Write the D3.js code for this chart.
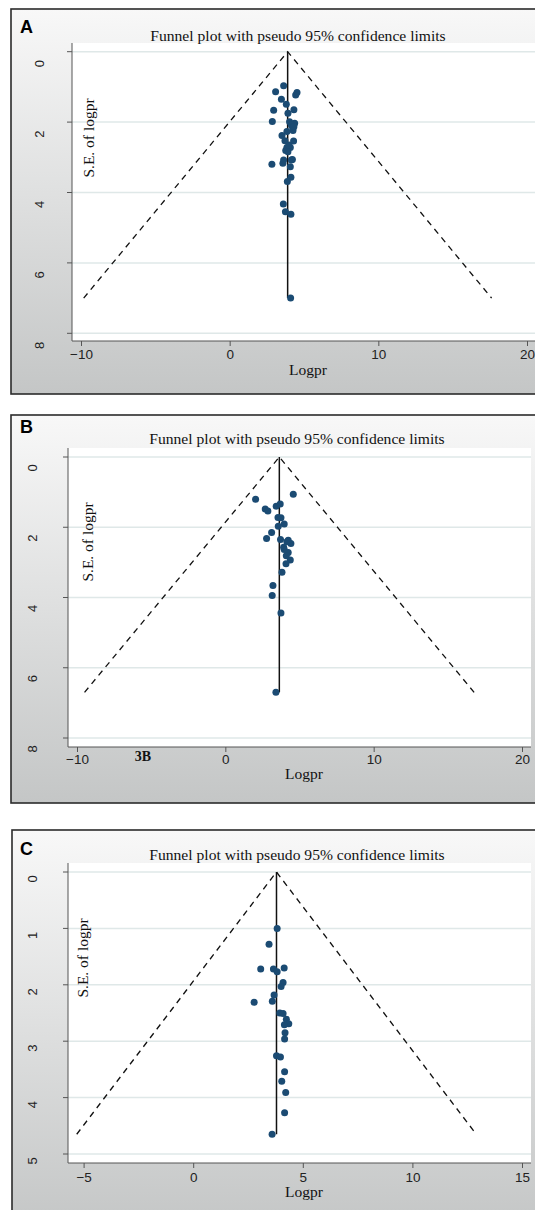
<!DOCTYPE html>
<html>
<head>
<meta charset="utf-8">
<script src="https://cdn.jsdelivr.net/npm/d3@7"></script>
<style>
  body { margin: 0; background: #fff; }
  svg { display: block; }
</style>
</head>
<body>
<div id="chart"></div>
<script>
// data
const chartTitle = "Funnel plot with pseudo 95% confidence limits";
const panelLetters = ["A", "B", "C"];
const pooledLogpr = [3.9, 3.64, 3.8];

const logprA = [3.63, 3.09, 4.53, 4.44, 3.48, 3.81, 2.96, 4.32, 3.92, 2.87, 4.03, 4.37, 4.22, 4.26, 3.52, 4.30,
    3.72, 3.85, 4.08, 3.77, 4.22, 3.63, 2.84, 3.58, 4.08, 4.12, 3.88, 3.61, 3.75, 4.12, 4.10, 4.15, 4.32, 3.99, 3.92, 4.15, 3.85];
const seA = [0.97, 1.14, 1.16, 1.23, 1.35, 1.49, 1.66, 1.65, 1.75, 1.98, 1.99, 2.03, 2.13, 2.24, 2.38, 2.54,
    2.53, 2.72, 2.72, 2.81, 3.06, 3.08, 3.20, 3.17, 3.27, 3.57, 3.69, 4.33, 4.55, 4.62, 7.0, 2.08, 2.13, 2.65, 2.84, 3.08, 2.27];

const logprB = [2.04, 4.58, 2.69, 2.87, 3.43, 3.70, 3.55, 3.75, 3.97, 3.57, 3.12, 2.78, 3.72, 4.24, 4.42, 3.93,
    4.24, 4.11, 4.38, 4.09, 3.82, 3.21, 3.16, 3.75, 3.41, 4.15, 3.97];
const seB = [1.20, 1.06, 1.48, 1.54, 1.40, 1.34, 1.72, 1.73, 1.91, 1.97, 2.15, 2.32, 2.35, 2.37, 2.46, 2.57,
    2.72, 2.81, 2.93, 3.04, 3.28, 3.66, 3.94, 4.44, 6.70, 2.41, 2.63];

const logprC = [3.83, 3.46, 3.08, 3.66, 3.83, 4.15, 4.10, 4.01, 3.69, 2.78, 3.61, 3.95, 4.10, 4.25, 4.36, 4.16,
    4.19, 4.17, 3.80, 3.98, 4.17, 4.04, 4.22, 4.17, 3.60];
const seC = [1.00, 1.28, 1.72, 1.72, 1.77, 1.70, 1.96, 2.03, 2.18, 2.31, 2.29, 2.50, 2.51, 2.61, 2.69, 2.71,
    2.85, 2.96, 3.26, 3.28, 3.54, 3.71, 3.91, 4.27, 4.65];

const xTicksAB = [-10, 0, 10, 20];
const yTicksAB = [0, 2, 4, 6, 8];
const xTicksC = [-5, 0, 5, 10, 15];
const yTicksC = [0, 1, 2, 3, 4, 5];

// layout of each framed panel
const layout = [
    {top: 9, bottom: 394, left: 11, plotTop: 43, plotRight: 545, axisX: 72, axisY: 341,
     xDomain: [-10, 20], xRange: [81, 527], yDomain: [0, 8], yRange: [51.7, 333.3],
     yLabelX: 39, yLabelDy: 12, yTitleX: 89, yTitleY: 138, titleX: 298, titleY: 41, letterY: 33,
     tickBase: 18, xTitleX: 308, xTitleBase: 34},
    {top: 415, bottom: 803, left: 11, plotTop: 448, plotRight: 531, axisX: 68, axisY: 747,
     xDomain: [-10, 20], xRange: [77, 522], yDomain: [0, 8], yRange: [457, 738],
     yLabelX: 32, yLabelDy: 11, yTitleX: 88, yTitleY: 542, titleX: 297, titleY: 444, letterY: 433,
     tickBase: 17, xTitleX: 304, xTitleBase: 32},
    {top: 830, bottom: 1230, left: 12, plotTop: 863, plotRight: 531, axisX: 68, axisY: 1163,
     xDomain: [-5, 15], xRange: [83.6, 522], yDomain: [0, 5], yRange: [872, 1154],
     yLabelX: 32, yLabelDy: 7, yTitleX: 83, yTitleY: 958, titleX: 297, titleY: 860, letterY: 855,
     tickBase: 19, xTitleX: 304, xTitleBase: 34}
];

const panelData = [
    {x: logprA, se: seA, xTicks: xTicksAB, yTicks: yTicksAB},
    {x: logprB, se: seB, xTicks: xTicksAB, yTicks: yTicksAB},
    {x: logprC, se: seC, xTicks: xTicksC, yTicks: yTicksC}
];

const serif = "'Liberation Serif', 'Times New Roman', serif";
const sans = "'Liberation Sans', Arial, sans-serif";

let svg = d3.select("#chart").append("svg")
    .attr("width", 535).attr("height", 1210);

let grad = svg.append("defs").append("linearGradient")
    .attr("id", "panelGrad").attr("x1", 0).attr("y1", 0).attr("x2", 0).attr("y2", 1);
grad.append("stop").attr("offset", "0%").attr("stop-color", "#f8f8f8");
grad.append("stop").attr("offset", "100%").attr("stop-color", "#c4c6c6");

layout.forEach((L, i) => drawPanel(L, panelData[i], i));

function drawPanel(L, d, i) {
    let g = svg.append("g");

    //Frame with grey gradient
    g.append("rect")
        .attr("x", L.left).attr("y", L.top)
        .attr("width", 560).attr("height", L.bottom - L.top)
        .attr("fill", "url(#panelGrad)")
        .attr("stroke", "#2b2b2b").attr("stroke-width", 1.6);

    //White plot region
    g.append("rect")
        .attr("x", L.axisX).attr("y", L.plotTop)
        .attr("width", L.plotRight - L.axisX).attr("height", L.axisY - L.plotTop)
        .attr("fill", "#fff");

    let x = d3.scaleLinear().domain(L.xDomain).range(L.xRange);
    let y = d3.scaleLinear().domain(L.yDomain).range(L.yRange);

    //Gridlines
    g.selectAll(".grid").data(d.yTicks).enter().append("line")
        .attr("x1", L.axisX).attr("x2", L.plotRight)
        .attr("y1", v => y(v)).attr("y2", v => y(v))
        .attr("stroke", "#dfe8e8").attr("stroke-width", 1.5);

    //Axes
    let yAxis = d3.axisLeft(y).tickValues(d.yTicks).tickFormat(d3.format("d")).tickSize(5).tickSizeOuter(0);
    let yG = g.append("g").attr("transform", "translate(" + L.axisX + ",0)").call(yAxis);
    yG.select(".domain").attr("d", "M0," + L.plotTop + "V" + L.axisY);
    yG.selectAll("line, path").attr("stroke", "#555");
    // labels sit rotated, a little below their tick, as in the original
    yG.selectAll(".tick").attr("transform", null)
        .select("line").attr("y1", v => y(v)).attr("y2", v => y(v));
    yG.selectAll("text")
        .attr("x", null).attr("y", null).attr("dy", null)
        .attr("transform", v => "translate(" + (L.yLabelX - L.axisX + 4.5) + "," + (y(v) + L.yLabelDy) + ") rotate(-90)")
        .style("text-anchor", "middle")
        .attr("font-family", sans).attr("font-size", "13px").attr("fill", "#222");

    let xAxis = d3.axisBottom(x).tickValues(d.xTicks).tickSize(5).tickSizeOuter(0);
    let xG = g.append("g").attr("transform", "translate(0," + L.axisY + ")").call(xAxis);
    xG.select(".domain").attr("d", "M" + L.axisX + ",0H" + L.plotRight);
    xG.selectAll("line, path").attr("stroke", "#555");
    xG.selectAll("text")
        .attr("y", L.tickBase).attr("dy", null)
        .attr("font-family", sans).attr("font-size", "13.5px").attr("fill", "#222");

    //Funnel: pseudo 95% limits and pooled estimate
    let theta = pooledLogpr[i];
    let maxSe = d3.max(d.se);
    let funnel = [[theta - 1.96 * maxSe, maxSe], [theta, 0], [theta + 1.96 * maxSe, maxSe]];
    g.append("path")
        .attr("d", d3.line().x(p => x(p[0])).y(p => y(p[1]))(funnel))
        .attr("fill", "none").attr("stroke", "#111").attr("stroke-width", 1.3)
        .attr("stroke-dasharray", "6,5");
    g.append("line")
        .attr("x1", x(theta)).attr("x2", x(theta))
        .attr("y1", y(0)).attr("y2", y(maxSe))
        .attr("stroke", "#111").attr("stroke-width", 1.5);

    //Study points
    g.selectAll(".pt").data(d.x).enter().append("circle")
        .attr("cx", v => x(v))
        .attr("cy", (v, j) => y(d.se[j]))
        .attr("r", 3.5)
        .attr("fill", "#1b4b73");

    //Texts
    g.append("text").text(chartTitle)
        .attr("x", L.titleX).attr("y", L.titleY)
        .style("text-anchor", "middle")
        .attr("font-family", serif).attr("font-size", "15.6px").attr("fill", "#111");

    g.append("text").text(panelLetters[i])
        .attr("x", 20).attr("y", L.letterY)
        .attr("font-family", sans).attr("font-weight", "bold").attr("font-size", "18px").attr("fill", "#000");

    g.append("text").text("S.E. of logpr")
        .attr("transform", "translate(" + (L.yTitleX + 5) + "," + L.yTitleY + ") rotate(-90)")
        .style("text-anchor", "middle")
        .attr("font-family", serif).attr("font-size", "15.5px").attr("fill", "#111");

    g.append("text").text("Logpr")
        .attr("x", L.xTitleX).attr("y", L.axisY + L.xTitleBase)
        .style("text-anchor", "middle")
        .attr("font-family", serif).attr("font-size", "15.5px").attr("fill", "#111");

    if (i === 1) {
        g.append("text").text("3B")
            .attr("x", 143).attr("y", L.axisY + 14)
            .style("text-anchor", "middle")
            .attr("font-family", serif).attr("font-weight", "bold").attr("font-size", "14px").attr("fill", "#111");
    }
}
</script>
</body>
</html>
